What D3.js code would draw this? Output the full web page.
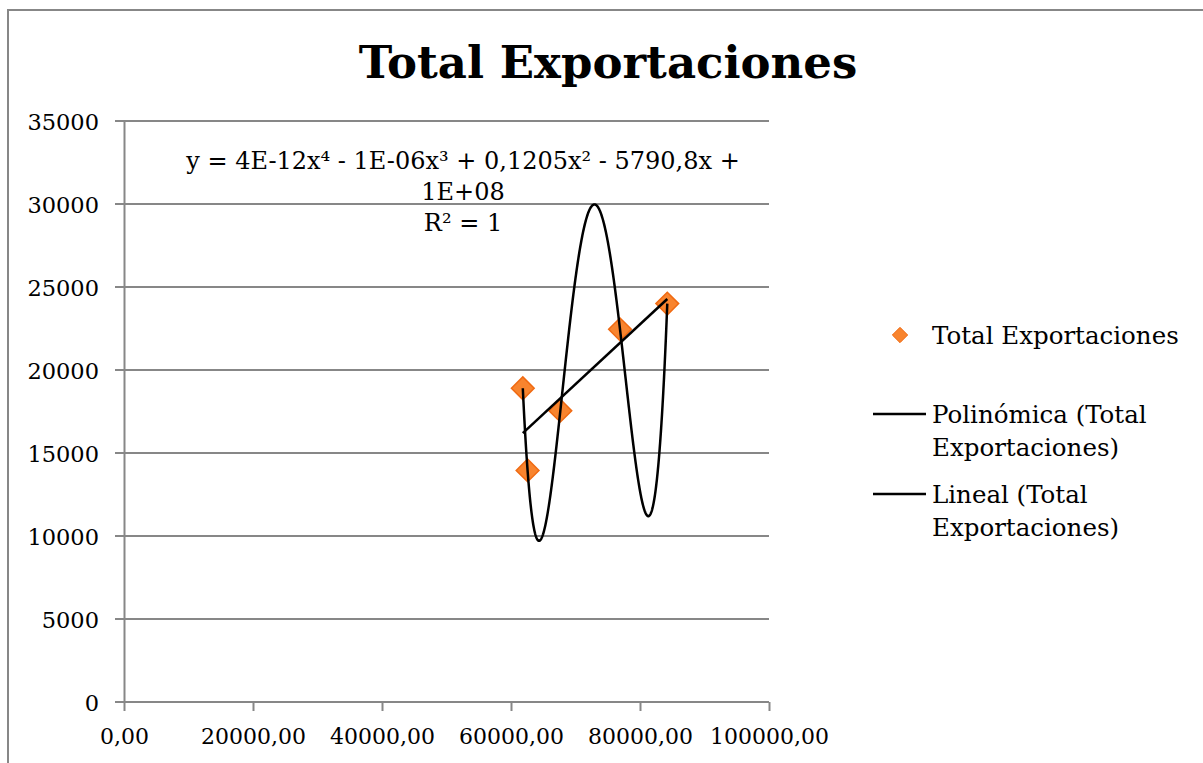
<!DOCTYPE html>
<html>
<head>
<meta charset="utf-8">
<script src="https://cdn.jsdelivr.net/npm/d3@7"></script>
<style>
  html, body { margin: 0; padding: 0; background: #fff; }
  svg { display: block; font-family: "DejaVu Serif", serif; }
</style>
</head>
<body>
<svg id="chart" width="1203" height="763"></svg>
<script>
// Export totals (x) against exports (y)
const xValues = [61830, 62570, 67650, 76900, 84230];
const yValues = [18900, 13950, 17550, 22450, 24000];

const xTicks = [0, 20000, 40000, 60000, 80000, 100000];
const yTicks = [0, 5000, 10000, 15000, 20000, 25000, 30000, 35000];

const titleText = "Total Exportaciones";
const equationLines = [
  "y = 4E-12x\u2074 - 1E-06x\u00B3 + 0,1205x\u00B2 - 5790,8x +",
  "1E+08",
  "R\u00B2 = 1"
];
const legendItems = [
  { kind: "marker", lines: ["Total Exportaciones"] },
  { kind: "line", lines: ["Polin\u00F3mica (Total", "Exportaciones)"] },
  { kind: "line", lines: ["Lineal (Total", "Exportaciones)"] }
];

const svg = d3.select("#chart");
const gridColor = "#878787";
const markerFill = "#F8842E";
const markerStroke = "#F06A12";

const x = d3.scaleLinear().domain([0, 100000]).range([124, 769]);
const y = d3.scaleLinear().domain([0, 35000]).range([702, 121]);

// outer frame (top and left edges)
svg.append("path")
  .attr("d", "M8,763 L8,10 L1203,10")
  .attr("fill", "none").attr("stroke", gridColor).attr("stroke-width", 2);

// title
svg.append("text")
  .attr("x", 608).attr("y", 78)
  .attr("text-anchor", "middle")
  .attr("font-weight", "bold").attr("font-size", 45)
  .text(titleText);

// horizontal gridlines
svg.append("g").selectAll("line").data(yTicks).join("line")
  .attr("x1", 115).attr("x2", x(100000))
  .attr("y1", d => y(d)).attr("y2", d => y(d))
  .attr("stroke", gridColor).attr("stroke-width", 2);

// y axis
const yAxis = d3.axisLeft(y).tickValues(yTicks).tickSize(0).tickPadding(25)
  .tickFormat(d3.format("d"));
const gy = svg.append("g").attr("transform", `translate(${x(0)},0)`).call(yAxis);
gy.select(".domain").attr("stroke", gridColor).attr("stroke-width", 2);
gy.selectAll("text").attr("font-family", "DejaVu Serif").attr("font-size", 22.5)
  .attr("fill", "#000").attr("dy", "0.36em");

// x axis
const fmtX = v => d3.format(".2f")(v).replace(".", ",");
const xAxis = d3.axisBottom(x).tickValues(xTicks).tickSize(9).tickPadding(17)
  .tickFormat(fmtX);
const gx = svg.append("g").attr("transform", `translate(0,${y(0)})`).call(xAxis);
gx.select(".domain").remove();
gx.selectAll("line").attr("stroke", gridColor).attr("stroke-width", 2);
gx.selectAll("text").attr("font-family", "DejaVu Serif").attr("font-size", 22)
  .attr("fill", "#000");

// data points
const pts = xValues.map((v, i) => [v, yValues[i]]);
const diamond = d3.symbol().type(d3.symbolDiamond2);
svg.append("g").selectAll("path").data(pts).join("path")
  .attr("transform", d => `translate(${x(d[0])},${y(d[1])})`)
  .attr("d", diamond.size(330)())
  .attr("fill", markerFill).attr("stroke", markerStroke).attr("stroke-width", 1.5);

// 4th-order polynomial trendline: passes through all five points
function lagrange(t) {
  let s = 0;
  for (let i = 0; i < pts.length; i++) {
    let term = pts[i][1];
    for (let j = 0; j < pts.length; j++) {
      if (j !== i) term *= (t - pts[j][0]) / (pts[i][0] - pts[j][0]);
    }
    s += term;
  }
  return s;
}
const xmin = d3.min(xValues), xmax = d3.max(xValues);
const polyPts = d3.range(0, 401).map(k => {
  const t = xmin + (xmax - xmin) * k / 400;
  return [t, lagrange(t)];
});
const line = d3.line().x(d => x(d[0])).y(d => y(d[1]));
svg.append("path").datum(polyPts).attr("d", line)
  .attr("fill", "none").attr("stroke", "#000").attr("stroke-width", 2.5);

// linear least-squares trendline
const mx = d3.mean(xValues), my = d3.mean(yValues);
const slope = d3.sum(pts, d => (d[0] - mx) * (d[1] - my)) / d3.sum(pts, d => (d[0] - mx) ** 2);
const intercept = my - slope * mx;
svg.append("path").datum([[xmin, intercept + slope * xmin], [xmax, intercept + slope * xmax]])
  .attr("d", line)
  .attr("fill", "none").attr("stroke", "#000").attr("stroke-width", 2.5);

// trendline equation
svg.append("g").selectAll("text").data(equationLines).join("text")
  .attr("x", 463).attr("y", (d, i) => 169 + i * 31)
  .attr("text-anchor", "middle").attr("font-size", 24)
  .text(d => d);

// legend
const legendY = [335, 414, 494];
const lg = svg.append("g");
legendItems.forEach((item, i) => {
  const cy = legendY[i];
  if (item.kind === "marker") {
    lg.append("path").attr("transform", `translate(900,${cy})`)
      .attr("d", diamond.size(150)())
      .attr("fill", markerFill).attr("stroke", markerStroke).attr("stroke-width", 1);
  } else {
    lg.append("line").attr("x1", 873).attr("x2", 926).attr("y1", cy).attr("y2", cy)
      .attr("stroke", "#000").attr("stroke-width", 2.5);
  }
  item.lines.forEach((t, k) => {
    lg.append("text").attr("x", 932).attr("y", cy + 9 + k * 33)
      .attr("font-size", 24.5).text(t);
  });
});
</script>
</body>
</html>
